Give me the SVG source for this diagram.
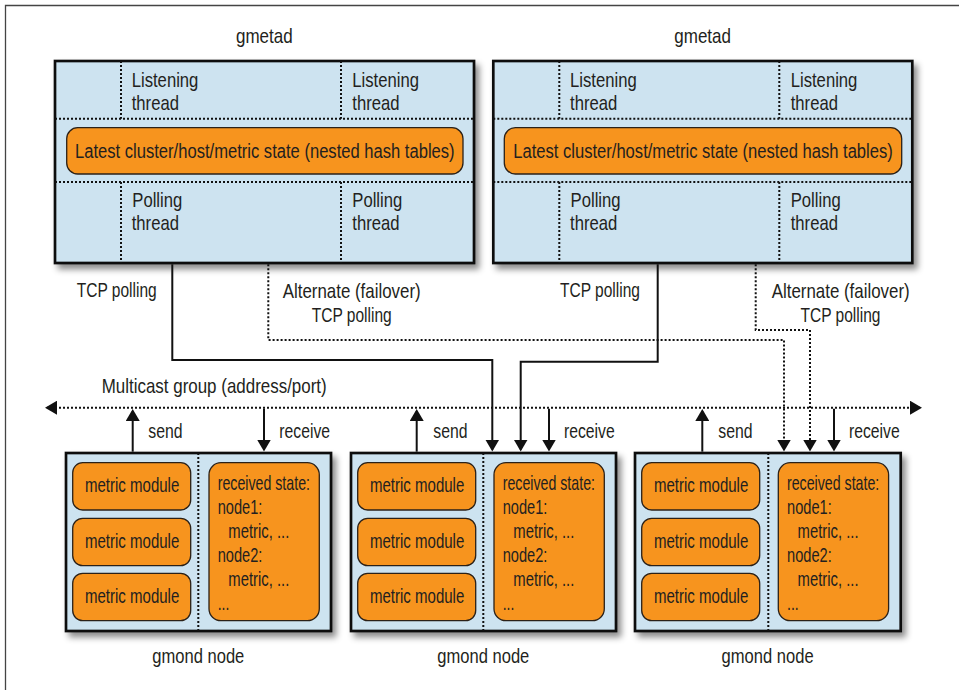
<svg xmlns="http://www.w3.org/2000/svg" width="959" height="690" viewBox="0 0 959 690">
<style>
text{font-family:"Liberation Sans",Arial,sans-serif;font-size:21px;fill:#231f20;}
.mid{text-anchor:middle;}
.box{fill:#cde3f0;stroke:#111;stroke-width:2.7;filter:url(#sh);}
.org{fill:#f7941e;stroke:#2b2118;stroke-width:1.3;}
.dot{stroke:#111;stroke-width:2;stroke-dasharray:2 2;fill:none;}
.ln{stroke:#111;stroke-width:2;fill:none;}
.dl{stroke:#111;stroke-width:2;stroke-dasharray:2 2;fill:none;}
</style>
<defs>
<filter id="sh" x="-10%" y="-10%" width="125%" height="130%">
<feDropShadow dx="4" dy="5" stdDeviation="3" flood-color="#000" flood-opacity="0.45"/>
</filter>
<marker id="ah" viewBox="0 0 12 14" markerUnits="userSpaceOnUse" markerWidth="12" markerHeight="14" refX="10" refY="7" orient="auto">
<path d="M0,0 L12,7 L0,14 z" fill="#111"/>
</marker>
<marker id="as" viewBox="0 0 12 14" markerUnits="userSpaceOnUse" markerWidth="12" markerHeight="14" refX="2" refY="7" orient="auto">
<path d="M12,0 L0,7 L12,14 z" fill="#111"/>
</marker>
</defs>
<rect width="959" height="690" fill="#fff"/>
<path d="M5.5,690 V5.5 H959" fill="none" stroke="#444" stroke-width="1.3"/>

<g id="gmetad1">
<text x="236" y="43" textLength="56.7" lengthAdjust="spacingAndGlyphs">gmetad</text>
<rect class="box" x="55" y="61" width="419" height="202"/>
<path class="dot" d="M55,118.7 H474 M55,182 H474 M121,61 V118.7 M121,182 V263 M341,61 V118.7 M341,182 V263"/>
<rect class="org" x="66.7" y="127.7" width="396.3" height="46.3" rx="11"/>
<text class="mid" transform="translate(264.8,157.5) scale(0.79,1)" x="0" y="0">Latest cluster/host/metric state (nested hash tables)</text>
<text x="131.7" y="87" textLength="66.7" lengthAdjust="spacingAndGlyphs">Listening</text>
<text x="131.7" y="110" textLength="47.3" lengthAdjust="spacingAndGlyphs">thread</text>
<text x="352.3" y="87" textLength="66.7" lengthAdjust="spacingAndGlyphs">Listening</text>
<text x="352.3" y="110" textLength="47.3" lengthAdjust="spacingAndGlyphs">thread</text>
<text x="132.3" y="207" textLength="50" lengthAdjust="spacingAndGlyphs">Polling</text>
<text x="131.7" y="230" textLength="47.3" lengthAdjust="spacingAndGlyphs">thread</text>
<text x="352.3" y="207" textLength="50" lengthAdjust="spacingAndGlyphs">Polling</text>
<text x="352.3" y="230" textLength="47.3" lengthAdjust="spacingAndGlyphs">thread</text>
</g>

<g id="gmetad2">
<text x="674.3" y="43" textLength="56.7" lengthAdjust="spacingAndGlyphs">gmetad</text>
<rect class="box" x="493.3" y="61" width="419" height="202"/>
<path class="dot" d="M493.3,118.7 H912.3 M493.3,182 H912.3 M559.3,61 V118.7 M559.3,182 V263 M779.3,61 V118.7 M779.3,182 V263"/>
<rect class="org" x="504.3" y="127.7" width="397.4" height="46.3" rx="11"/>
<text class="mid" transform="translate(703,157.5) scale(0.79,1)" x="0" y="0">Latest cluster/host/metric state (nested hash tables)</text>
<text x="570" y="87" textLength="66.7" lengthAdjust="spacingAndGlyphs">Listening</text>
<text x="570" y="110" textLength="47.3" lengthAdjust="spacingAndGlyphs">thread</text>
<text x="790.7" y="87" textLength="66.7" lengthAdjust="spacingAndGlyphs">Listening</text>
<text x="790.7" y="110" textLength="47.3" lengthAdjust="spacingAndGlyphs">thread</text>
<text x="570.6" y="207" textLength="50" lengthAdjust="spacingAndGlyphs">Polling</text>
<text x="570" y="230" textLength="47.3" lengthAdjust="spacingAndGlyphs">thread</text>
<text x="790.7" y="207" textLength="50" lengthAdjust="spacingAndGlyphs">Polling</text>
<text x="790.7" y="230" textLength="47.3" lengthAdjust="spacingAndGlyphs">thread</text>
</g>

<g id="gmond1">
<rect class="box" x="66" y="453" width="265" height="178"/>
<path class="dot" d="M198.3,453 V631"/>
<rect class="org" x="72.7" y="462.7" width="118" height="47.3" rx="10"/>
<rect class="org" x="72.7" y="518.3" width="118" height="47.3" rx="10"/>
<rect class="org" x="72.7" y="573.3" width="118" height="47.3" rx="10"/>
<text x="85" y="492" textLength="94.3" lengthAdjust="spacingAndGlyphs">metric module</text>
<text x="85" y="547.6" textLength="94.3" lengthAdjust="spacingAndGlyphs">metric module</text>
<text x="85" y="603" textLength="94.3" lengthAdjust="spacingAndGlyphs">metric module</text>
<rect class="org" x="209" y="462.7" width="110.3" height="158" rx="12"/>
<text x="217.7" y="490" textLength="92.3" lengthAdjust="spacingAndGlyphs">received state:</text>
<text x="217.7" y="514" textLength="44.7" lengthAdjust="spacingAndGlyphs">node1:</text>
<text x="228.3" y="538.3" textLength="61" lengthAdjust="spacingAndGlyphs">metric, ...</text>
<text x="217.7" y="562" textLength="44.7" lengthAdjust="spacingAndGlyphs">node2:</text>
<text x="228.3" y="586" textLength="61" lengthAdjust="spacingAndGlyphs">metric, ...</text>
<text x="217.7" y="610" textLength="11.7" lengthAdjust="spacingAndGlyphs">...</text>
<text x="152.3" y="663" textLength="92" lengthAdjust="spacingAndGlyphs">gmond node</text>
</g>

<g id="gmond2">
<rect class="box" x="351" y="453" width="265" height="178"/>
<path class="dot" d="M483.3,453 V631"/>
<rect class="org" x="357.7" y="462.7" width="118" height="47.3" rx="10"/>
<rect class="org" x="357.7" y="518.3" width="118" height="47.3" rx="10"/>
<rect class="org" x="357.7" y="573.3" width="118" height="47.3" rx="10"/>
<text x="370" y="492" textLength="94.3" lengthAdjust="spacingAndGlyphs">metric module</text>
<text x="370" y="547.6" textLength="94.3" lengthAdjust="spacingAndGlyphs">metric module</text>
<text x="370" y="603" textLength="94.3" lengthAdjust="spacingAndGlyphs">metric module</text>
<rect class="org" x="494" y="462.7" width="110.3" height="158" rx="12"/>
<text x="502.7" y="490" textLength="92.3" lengthAdjust="spacingAndGlyphs">received state:</text>
<text x="502.7" y="514" textLength="44.7" lengthAdjust="spacingAndGlyphs">node1:</text>
<text x="513.3" y="538.3" textLength="61" lengthAdjust="spacingAndGlyphs">metric, ...</text>
<text x="502.7" y="562" textLength="44.7" lengthAdjust="spacingAndGlyphs">node2:</text>
<text x="513.3" y="586" textLength="61" lengthAdjust="spacingAndGlyphs">metric, ...</text>
<text x="502.7" y="610" textLength="11.7" lengthAdjust="spacingAndGlyphs">...</text>
<text x="437.3" y="663" textLength="92" lengthAdjust="spacingAndGlyphs">gmond node</text>
</g>

<g id="gmond3">
<rect class="box" x="635" y="453" width="265.7" height="178"/>
<path class="dot" d="M768.3,453 V631"/>
<rect class="org" x="641.7" y="462.7" width="118" height="47.3" rx="10"/>
<rect class="org" x="641.7" y="518.3" width="118" height="47.3" rx="10"/>
<rect class="org" x="641.7" y="573.3" width="118" height="47.3" rx="10"/>
<text x="654" y="492" textLength="94.3" lengthAdjust="spacingAndGlyphs">metric module</text>
<text x="654" y="547.6" textLength="94.3" lengthAdjust="spacingAndGlyphs">metric module</text>
<text x="654" y="603" textLength="94.3" lengthAdjust="spacingAndGlyphs">metric module</text>
<rect class="org" x="778.3" y="462.7" width="110.3" height="158" rx="12"/>
<text x="787" y="490" textLength="92.3" lengthAdjust="spacingAndGlyphs">received state:</text>
<text x="787" y="514" textLength="44.7" lengthAdjust="spacingAndGlyphs">node1:</text>
<text x="797.6" y="538.3" textLength="61" lengthAdjust="spacingAndGlyphs">metric, ...</text>
<text x="787" y="562" textLength="44.7" lengthAdjust="spacingAndGlyphs">node2:</text>
<text x="797.6" y="586" textLength="61" lengthAdjust="spacingAndGlyphs">metric, ...</text>
<text x="787" y="610" textLength="11.7" lengthAdjust="spacingAndGlyphs">...</text>
<text x="721.6" y="663" textLength="92" lengthAdjust="spacingAndGlyphs">gmond node</text>
</g>

<g id="connectors">
<path class="dl" d="M47,407.7 H920" marker-start="url(#as)" marker-end="url(#ah)"/>
<text x="101.7" y="393" textLength="225" lengthAdjust="spacingAndGlyphs">Multicast group (address/port)</text>

<path class="ln" d="M172.3,264.3 V360 H492.3 V449.5" marker-end="url(#ah)"/>
<path class="ln" d="M657.7,264.3 V361.7 H520.7 V449.5" marker-end="url(#ah)"/>
<path class="dl" d="M268.3,264.3 V340 H784 V449.5" marker-end="url(#ah)"/>
<path class="dl" d="M755.7,264.3 V330 H810 V449.5" marker-end="url(#ah)"/>
<text x="76.7" y="297" textLength="80" lengthAdjust="spacingAndGlyphs">TCP polling</text>
<text x="282.7" y="298" textLength="138" lengthAdjust="spacingAndGlyphs">Alternate (failover)</text>
<text x="311.7" y="322" textLength="80" lengthAdjust="spacingAndGlyphs">TCP polling</text>
<text x="560" y="297" textLength="80" lengthAdjust="spacingAndGlyphs">TCP polling</text>
<text x="771.7" y="298" textLength="138" lengthAdjust="spacingAndGlyphs">Alternate (failover)</text>
<text x="800.5" y="322" textLength="80" lengthAdjust="spacingAndGlyphs">TCP polling</text>

<path class="ln" d="M132.7,451.7 V411" marker-end="url(#ah)"/>
<path class="ln" d="M264,408.7 V449.5" marker-end="url(#ah)"/>
<path class="ln" d="M416.7,451.7 V411" marker-end="url(#ah)"/>
<path class="ln" d="M549,408.7 V449.5" marker-end="url(#ah)"/>
<path class="ln" d="M702.3,451.7 V411" marker-end="url(#ah)"/>
<path class="ln" d="M834,408.7 V449.5" marker-end="url(#ah)"/>
<text x="148.3" y="438" textLength="34.3" lengthAdjust="spacingAndGlyphs">send</text>
<text x="279.3" y="438" textLength="50.7" lengthAdjust="spacingAndGlyphs">receive</text>
<text x="433.3" y="438" textLength="34.3" lengthAdjust="spacingAndGlyphs">send</text>
<text x="564" y="438" textLength="50.7" lengthAdjust="spacingAndGlyphs">receive</text>
<text x="718.3" y="438" textLength="34.3" lengthAdjust="spacingAndGlyphs">send</text>
<text x="849" y="438" textLength="50.7" lengthAdjust="spacingAndGlyphs">receive</text>
</g>
</svg>
